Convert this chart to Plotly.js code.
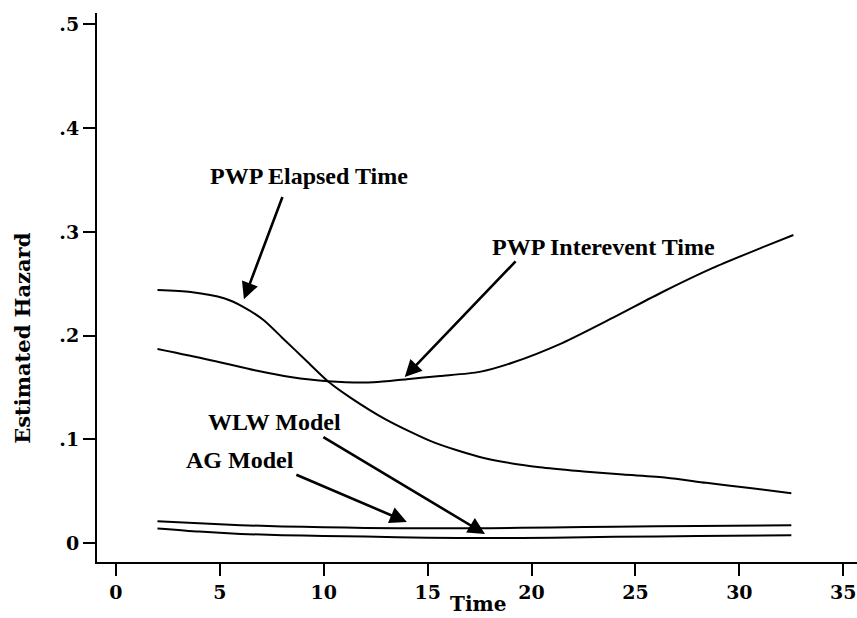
<!DOCTYPE html>
<html>
<head>
<meta charset="utf-8">
<script src="https://cdn.plot.ly/plotly-3.0.1.min.js"></script>
<style>html,body{margin:0;padding:0;background:#fff;}#chart{width:857px;height:618px;}</style>
</head>
<body>
<div id="chart"></div>
<script>
// Data
const elapsedTime = [2.0, 3.6, 5.2, 6.1, 7.1, 8.0, 9.2, 10.2, 11.3, 13.0, 15.3, 17.7, 20.4, 22.5, 24.4, 26.5, 28.4, 30.5, 32.5];
const elapsedHazard = [0.244, 0.242, 0.236, 0.228, 0.215, 0.198, 0.175, 0.156, 0.140, 0.119, 0.097, 0.082, 0.073, 0.069, 0.066, 0.063, 0.058, 0.053, 0.048];

const intereventTime = [2.0, 4.4, 6.8, 8.4, 10.2, 12.4, 14.0, 15.6, 17.5, 19.1, 21.5, 23.9, 26.3, 28.7, 31.1, 32.6];
const intereventHazard = [0.187, 0.177, 0.166, 0.160, 0.156, 0.155, 0.158, 0.161, 0.165, 0.174, 0.193, 0.217, 0.242, 0.265, 0.285, 0.297];

const agTime = [2, 4, 6, 8, 10, 12, 15, 18, 21, 24, 28, 32.5];
const agHazard = [0.021, 0.019, 0.0172, 0.016, 0.0152, 0.0146, 0.0142, 0.0143, 0.0150, 0.0158, 0.0165, 0.0172];

const wlwTime = [2, 4, 6, 8, 10, 12, 15, 18, 21, 24, 28, 32.5];
const wlwHazard = [0.014, 0.011, 0.0088, 0.0076, 0.0068, 0.0062, 0.0052, 0.0048, 0.0052, 0.0060, 0.0067, 0.0075];

const xTickVals = [0, 5, 10, 15, 20, 25, 30, 35];
const yTickVals = [0, 0.1, 0.2, 0.3, 0.4, 0.5];
const yTickText = ['0', '.1', '.2', '.3', '.4', '.5'];

// Labels
const labelText = ['PWP Elapsed Time', 'PWP Interevent Time', 'WLW Model', 'AG Model'];
const labelX = [9.29, 23.44, 7.65, 5.99];
const labelY = [0.354, 0.285, 0.117, 0.080];

// Arrows: head (x,y) and tail (ax,ay)
const arrowHeadX = [6.16, 13.9, 14.0, 17.76];
const arrowHeadY = [0.235, 0.160, 0.0203, 0.0087];
const arrowTailX = [8.04, 19.3, 8.61, 9.91];
const arrowTailY = [0.335, 0.273, 0.0665, 0.103];

const lineStyle = {color: 'black', width: 2, shape: 'spline', smoothing: 0.7};
const traces = [
  {x: elapsedTime, y: elapsedHazard, name: 'PWP Elapsed Time'},
  {x: intereventTime, y: intereventHazard, name: 'PWP Interevent Time'},
  {x: agTime, y: agHazard, name: 'AG Model'},
  {x: wlwTime, y: wlwHazard, name: 'WLW Model'}
].map(t => Object.assign({type: 'scatter', mode: 'lines', line: lineStyle, hoverinfo: 'skip'}, t));

const annFont = {family: 'Liberation Serif', size: 24, color: 'black', weight: 'bold'};
const titleFont = {family: 'DejaVu Serif', size: 21, color: 'black', weight: 'bold'};
const annotations = [];
labelText.forEach((t, i) => annotations.push({
  text: t, x: labelX[i], y: labelY[i], xref: 'x', yref: 'y',
  showarrow: false, font: annFont, xanchor: 'center', yanchor: 'middle'
}));
arrowHeadX.forEach((hx, i) => annotations.push({
  text: '', x: hx, y: arrowHeadY[i], ax: arrowTailX[i], ay: arrowTailY[i],
  xref: 'x', yref: 'y', axref: 'x', ayref: 'y',
  showarrow: true, arrowhead: 2, arrowsize: 1.3, arrowwidth: 2.6, arrowcolor: 'black', standoff: 0
}));
annotations.push({
  text: 'Estimated Hazard', xref: 'paper', yref: 'paper', x: -0.099, y: 0.408,
  textangle: -90, showarrow: false, xanchor: 'center', yanchor: 'middle', font: titleFont
});
annotations.push({
  text: 'Time', xref: 'paper', yref: 'paper', x: 0.501, y: -0.1002,
  showarrow: false, xanchor: 'center', yanchor: 'bottom', borderpad: 0,
  font: {family: 'DejaVu Serif', size: 20, color: 'black', weight: 'bold'}
});

const tickFont = {family: 'DejaVu Serif', size: 19, color: 'black', weight: 'bold'};
const layout = {
  width: 857, height: 618,
  margin: {l: 97, r: 0, t: 13, b: 56, pad: 0},
  paper_bgcolor: 'white', plot_bgcolor: 'white',
  showlegend: false,
  xaxis: {
    range: [-0.91, 35.66], tickvals: xTickVals, ticks: 'outside', ticklen: 12, tickwidth: 2,
    tickcolor: 'black', showline: true, linewidth: 2, linecolor: 'black',
    showgrid: false, zeroline: false, tickfont: tickFont
  },
  yaxis: {
    range: [-0.0183, 0.511], tickvals: yTickVals, ticktext: yTickText, ticks: 'outside', ticklen: 12, tickwidth: 2,
    tickcolor: 'black', showline: true, linewidth: 2, linecolor: 'black',
    showgrid: false, zeroline: false, tickfont: tickFont
  },
  annotations: annotations
};
Plotly.newPlot('chart', traces, layout, {displayModeBar: false, staticPlot: true});
</script>
</body>
</html>
